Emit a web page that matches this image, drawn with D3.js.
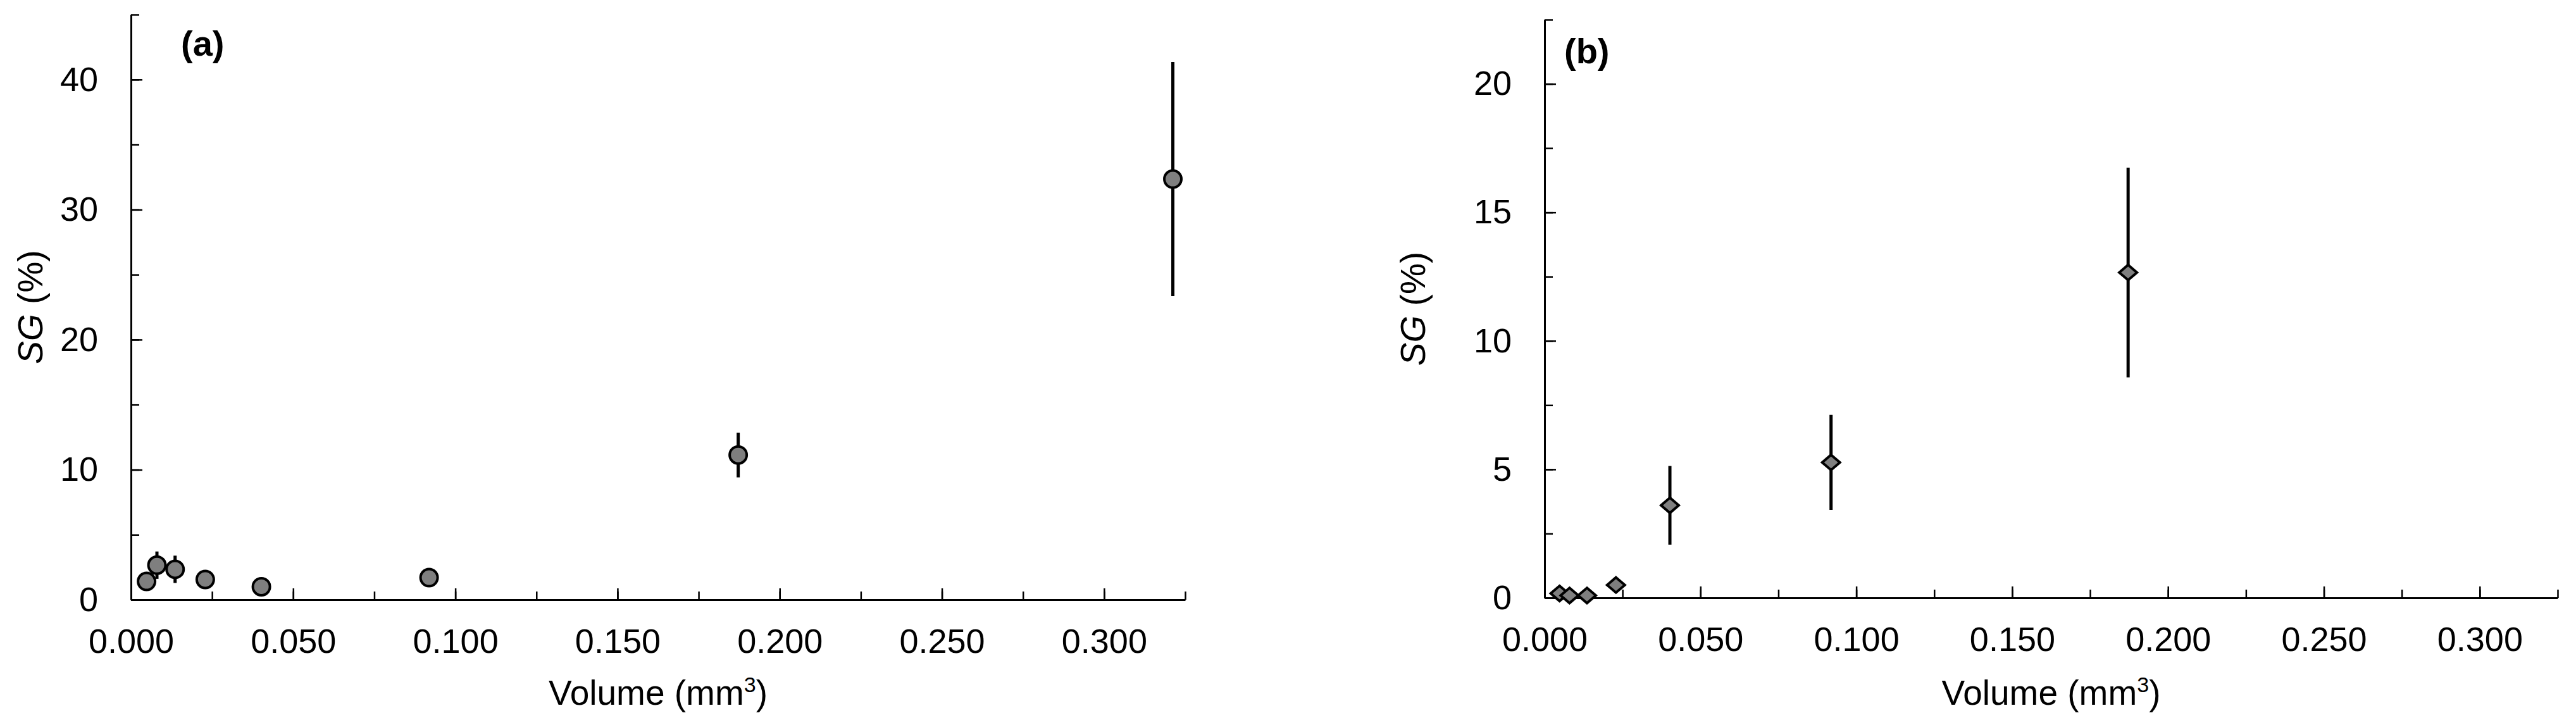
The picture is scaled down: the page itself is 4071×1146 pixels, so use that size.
<!DOCTYPE html>
<html>
<head>
<meta charset="utf-8">
<script src="https://cdn.jsdelivr.net/npm/d3@7"></script>
<style>
  body { margin: 0; background: #fff; }
  text { font-family: "Liberation Sans", Arial, sans-serif; fill: #000; }
  .axis path, .axis line { stroke: #000; }
</style>
</head>
<body>
<div id="chart"></div>
<script>
// values
var volume = [0.0048, 0.0080, 0.0136, 0.0229, 0.0402, 0.0919, 0.1872, 0.3212];

// panel (a)
var sgA  = [1.41, 2.66, 2.34, 1.56, 1.00, 1.70, 11.13, 32.35];
var errA = [0.40, 1.05, 1.05, 0.40, 0.30, 0.40, 1.72, 9.00];

// panel (b) - no point at the largest volume
var volumeB = volume.slice(0, 7);
var sgB  = [0.17, 0.09, 0.09, 0.50, 3.60, 5.27, 12.66];
var errB = [0.10, 0.08, 0.08, 0.20, 1.53, 1.85, 4.08];

var xTicks  = [0, 0.05, 0.1, 0.15, 0.2, 0.25, 0.3];
var yTicksA = [0, 10, 20, 30, 40];
var yTicksB = [0, 5, 10, 15, 20];

var svgWidth = 4071;
var svgHeight = 1146;

var svg = d3.select("#chart")
  .append("svg")
  .attr("width", svgWidth)
  .attr("height", svgHeight);

svg.append("rect")
  .attr("width", svgWidth)
  .attr("height", svgHeight)
  .attr("fill", "#fff");

function drawPanel(p) {
  var x = d3.scaleLinear().domain([0, 0.325]).range([p.left, p.right]);
  var y = d3.scaleLinear().domain([0, p.yMax]).range([p.bottom, p.top]);

  // minor ticks first (no labels)
  var xMinor = svg.append("g")
    .attr("class", "axis")
    .attr("transform", `translate(0, ${p.bottom})`)
    .call(d3.axisBottom(x).tickValues(d3.range(0, 0.3251, 0.025)).tickFormat("").tickSize(-13).tickSizeOuter(0));
  xMinor.select(".domain").remove();
  xMinor.selectAll("line").attr("stroke-width", 2.5);

  var yMinor = svg.append("g")
    .attr("class", "axis")
    .attr("transform", `translate(${p.left}, 0)`)
    .call(d3.axisLeft(y).tickValues(d3.range(0, p.yMax + 0.01, p.yMinorStep)).tickFormat("").tickSize(-13).tickSizeOuter(0));
  yMinor.select(".domain").remove();
  yMinor.selectAll("line").attr("stroke-width", 2.5);

  // major axes
  var xAxis = svg.append("g")
    .attr("class", "axis")
    .attr("transform", `translate(0, ${p.bottom})`)
    .call(d3.axisBottom(x).tickValues(xTicks).tickFormat(d3.format(".3f")).tickSize(-18).tickSizeOuter(0).tickPadding(46));
  xAxis.select(".domain").attr("stroke-width", 3);
  xAxis.selectAll("line").attr("stroke-width", 2.5);
  xAxis.selectAll("text").attr("font-size", 54).attr("fill", "#000");

  var yAxis = svg.append("g")
    .attr("class", "axis")
    .attr("transform", `translate(${p.left}, 0)`)
    .call(d3.axisLeft(y).tickValues(p.yTicks).tickFormat(d3.format("d")).tickSize(-18).tickSizeOuter(0).tickPadding(52));
  yAxis.select(".domain").attr("stroke-width", 3);
  yAxis.selectAll("line").attr("stroke-width", 2.5);
  yAxis.selectAll("text").attr("font-size", 54).attr("fill", "#000");

  // error bars
  svg.append("g").selectAll("line")
    .data(p.vals)
    .enter()
    .append("line")
    .attr("x1", (d, i) => x(p.vols[i]))
    .attr("x2", (d, i) => x(p.vols[i]))
    .attr("y1", (d, i) => y(d + p.errs[i]))
    .attr("y2", (d, i) => y(d - p.errs[i]))
    .attr("stroke", "#000")
    .attr("stroke-width", 5);

  // markers
  var marks = svg.append("g").selectAll("path")
    .data(p.vals)
    .enter()
    .append("path")
    .attr("transform", (d, i) => `translate(${x(p.vols[i])}, ${y(d)})`)
    .attr("fill", "#7f7f7f")
    .attr("stroke", "#000")
    .attr("stroke-width", 4);
  if (p.marker === "circle") {
    marks.attr("d", "M-13.5,0a13.5,13.5 0 1,0 27,0a13.5,13.5 0 1,0 -27,0Z");
  } else {
    marks.attr("d", "M0,-12L14,0L0,12L-14,0Z");
  }

  // panel letter
  svg.append("text")
    .attr("x", p.letterX)
    .attr("y", p.letterY)
    .attr("font-size", 56)
    .attr("font-weight", "bold")
    .text(p.letter);

  // axis titles
  var xt = svg.append("text")
    .attr("x", (p.left + p.right) / 2)
    .attr("y", 1114)
    .attr("text-anchor", "middle")
    .attr("font-size", 55);
  xt.append("tspan").text("Volume (mm");
  xt.append("tspan").attr("font-size", 34).attr("dy", -20).text("3");
  xt.append("tspan").attr("dy", 20).text(")");

  var yt = svg.append("text")
    .attr("transform", `translate(${p.yLabelX}, ${(p.top + p.bottom) / 2}) rotate(-90)`)
    .attr("text-anchor", "middle")
    .attr("font-size", 55);
  yt.append("tspan").attr("font-style", "italic").text("SG");
  yt.append("tspan").text(" (%)");
}

drawPanel({
  left: 207, right: 1873, top: 23, bottom: 948,
  yMax: 45, yMinorStep: 5, yTicks: yTicksA,
  vols: volume, vals: sgA, errs: errA,
  marker: "circle", letter: "(a)", letterX: 286, letterY: 88, yLabelX: 67
});

drawPanel({
  left: 2441, right: 4042, top: 31, bottom: 945,
  yMax: 22.5, yMinorStep: 2.5, yTicks: yTicksB,
  vols: volumeB, vals: sgB, errs: errB,
  marker: "diamond", letter: "(b)", letterX: 2472, letterY: 100, yLabelX: 2252
});
</script>
</body>
</html>
